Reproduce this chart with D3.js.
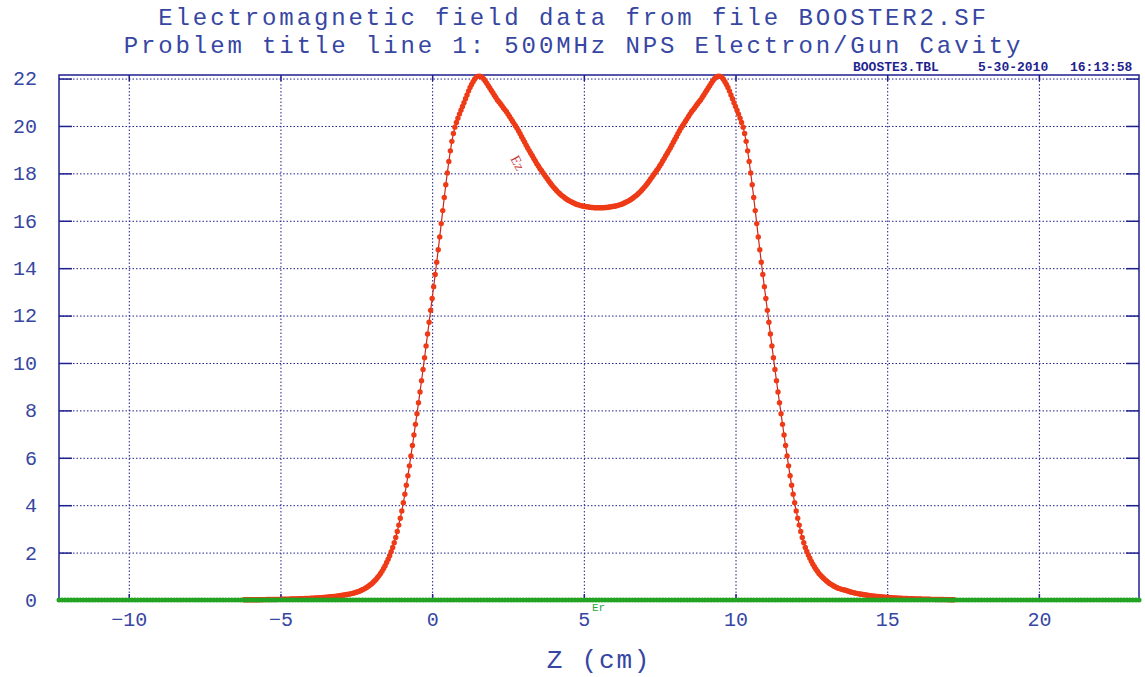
<!DOCTYPE html>
<html><head><meta charset="utf-8">
<script src="https://cdn.jsdelivr.net/npm/d3@7"></script>
<style>html,body{margin:0;padding:0;background:#fff}svg{display:block}</style>
</head><body>
<svg id="chart" width="1145" height="677"></svg>
<script>
// ---------- data ----------
const titleLines = ["Electromagnetic field data from file BOOSTER2.SF",
                    "Problem title line 1: 500MHz NPS Electron/Gun Cavity"];
const stampFile = "BOOSTE3.TBL";
const stampDate = "5-30-2010";
const stampTime = "16:13:58";
const xAxisTitle = "Z (cm)";
const xTickValues = [-10, -5, 0, 5, 10, 15, 20];
const yTickValues = [0, 2, 4, 6, 8, 10, 12, 14, 16, 18, 20, 22];
const seriesNames = ["Ez", "Er"];

// Ez samples, z from -6.20 cm in steps of 0.05 cm (to 17.20 cm)
const ezStart = -6.2, ezStep = 0.05;
const ezValues = [
0.01,0.01,0.01,0.01,0.01,0.01,0.01,0.011,0.011,0.012,
0.013,0.014,0.015,0.016,0.017,0.018,0.019,0.02,0.021,0.022,
0.023,0.024,0.026,0.027,0.028,0.03,0.031,0.033,0.034,0.036,
0.038,0.04,0.042,0.044,0.046,0.048,0.05,0.053,0.055,0.058,
0.061,0.064,0.067,0.07,0.073,0.077,0.08,0.083,0.087,0.09,
0.095,0.1,0.105,0.11,0.115,0.12,0.13,0.135,0.14,0.15,
0.155,0.16,0.17,0.18,0.19,0.2,0.21,0.22,0.23,0.24,
0.26,0.27,0.29,0.31,0.33,0.35,0.37,0.4,0.43,0.46,
0.5,0.54,0.58,0.63,0.68,0.74,0.8,0.87,0.95,1.03,
1.12,1.22,1.33,1.45,1.58,1.72,1.87,2.04,2.22,2.42,
2.64,2.89,3.16,3.45,3.76,4.1,4.46,4.84,5.24,5.66,
6.08,6.52,6.96,7.41,7.86,8.32,8.78,9.25,9.73,10.22,
10.72,11.22,11.72,12.22,12.72,13.22,13.73,14.25,14.78,15.32,
15.88,16.43,16.98,17.52,18.02,18.5,18.95,19.35,19.68,19.95,
20.15,20.33,20.5,20.66,20.82,20.98,21.15,21.31,21.47,21.62,
21.75,21.87,21.97,22.05,22.09,22.1,
22.09,22.05,21.98,21.9,21.8,21.7,21.6,21.5,21.4,21.3,
21.2,21.1,21.02,20.94,20.85,20.76,20.68,20.6,20.5,20.4,
20.3,20.2,20.1,20.0,19.9,19.79,19.67,19.55,19.43,19.31,
19.19,19.07,18.96,18.85,18.74,18.63,18.52,18.41,18.31,18.21,
18.12,18.03,17.94,17.85,17.76,17.67,17.58,17.5,17.42,17.35,
17.28,17.21,17.15,17.09,17.04,16.99,16.94,16.9,16.86,16.82,
16.79,16.76,16.73,16.7,16.68,16.66,16.64,16.62,16.61,16.6,
16.59,16.58,16.57,16.56,16.56,16.55,16.55,16.55,16.55,
16.55,16.55,16.55,16.56,16.56,16.57,16.58,16.59,
16.6,16.61,16.62,16.64,16.66,16.68,16.7,16.73,16.76,16.79,
16.82,16.86,16.9,16.94,16.99,17.04,17.09,17.15,17.21,17.28,
17.35,17.42,17.5,17.58,17.67,17.76,17.85,17.94,18.03,18.12,
18.21,18.31,18.41,18.52,18.63,18.74,18.85,18.96,19.07,19.19,
19.31,19.43,19.55,19.67,19.79,19.9,20.0,20.1,20.2,20.3,
20.4,20.5,20.6,20.68,20.76,20.85,20.94,21.02,21.1,21.2,
21.3,21.4,21.5,21.6,21.7,21.8,21.9,21.98,22.05,22.09,
22.1,
22.09,22.05,21.97,21.87,21.75,21.62,21.47,21.31,21.15,20.98,
20.82,20.66,20.5,20.33,20.15,19.95,19.68,19.35,18.95,18.5,
18.02,17.52,16.98,16.43,15.88,15.32,14.78,14.25,13.73,13.22,
12.72,12.22,11.72,11.22,10.72,10.22,9.73,9.25,8.78,8.32,
7.86,7.41,6.96,6.52,6.08,5.66,5.24,4.84,4.46,4.1,
3.76,3.45,3.16,2.89,2.64,2.42,2.22,2.05,1.9,1.76,
1.63,1.51,1.4,1.3,1.21,1.12,1.05,0.98,0.92,0.86,
0.8,0.75,0.7,0.66,0.62,0.58,0.55,0.52,0.49,0.47,
0.45,0.43,0.42,0.4,0.38,0.36,0.34,0.32,0.31,0.29,
0.28,0.26,0.25,0.24,0.23,0.22,0.21,0.2,0.19,0.18,
0.17,0.165,0.16,0.15,0.145,0.14,0.13,0.125,0.12,0.115,
0.11,0.105,0.1,0.095,0.09,0.087,0.083,0.08,0.076,0.073,
0.07,0.067,0.064,0.061,0.058,0.055,0.052,0.05,0.048,0.046,
0.044,0.042,0.04,0.038,0.036,0.034,0.032,0.03,0.029,0.028,
0.026,0.025,0.024,0.022,0.021,0.02,0.019,0.018,0.017,0.016,
0.015,0.014,0.013,0.012,0.011
];

// Er on axis, z from -12.3 cm in steps of 0.1 cm (to 23.3 cm)
const erStart = -12.3, erStep = 0.1;
const erValues = [
0,0,0,0,0,0,0,0,0,0,0,0,0,0,0,0,0,0,0,0,0,0,0,0,0,0,0,0,0,0,0,0,0,0,0,0,0,0,0,0,0,0,0,0,0,0,0,0,0,0,
0,0,0,0,0,0,0,0,0,0,0,0,0,0,0,0,0,0,0,0,0,0,0,0,0,0,0,0,0,0,0,0,0,0,0,0,0,0,0,0,0,0,0,0,0,0,0,0,0,0,
0,0,0,0,0,0,0,0,0,0,0,0,0,0,0,0,0,0,0,0,0,0,0,0,0,0,0,0,0,0,0,0,0,0,0,0,0,0,0,0,0,0,0,0,0,0,0,0,0,0,
0,0,0,0,0,0,0,0,0,0,0,0,0,0,0,0,0,0,0,0,0,0,0,0,0,0,0,0,0,0,0,0,0,0,0,0,0,0,0,0,0,0,0,0,0,0,0,0,0,0,
0,0,0,0,0,0,0,0,0,0,0,0,0,0,0,0,0,0,0,0,0,0,0,0,0,0,0,0,0,0,0,0,0,0,0,0,0,0,0,0,0,0,0,0,0,0,0,0,0,0,
0,0,0,0,0,0,0,0,0,0,0,0,0,0,0,0,0,0,0,0,0,0,0,0,0,0,0,0,0,0,0,0,0,0,0,0,0,0,0,0,0,0,0,0,0,0,0,0,0,0,
0,0,0,0,0,0,0,0,0,0,0,0,0,0,0,0,0,0,0,0,0,0,0,0,0,0,0,0,0,0,0,0,0,0,0,0,0,0,0,0,0,0,0,0,0,0,0,0,0,0,
0,0,0,0,0,0,0
];

// ---------- drawing ----------
const W = 1145, H = 677;
const svg = d3.select("#chart");
const navy = "#1f1f8f", textBlue = "#3646a2";
const mono = "'Liberation Mono', 'DejaVu Sans Mono', monospace";

const x = d3.scaleLinear().domain([-12.3, 23.3]).range([59, 1139]);
const y = d3.scaleLinear().domain([0, 22.15]).range([600, 75]);

const ez = ezValues.map((v, i) => ({z: ezStart + i * ezStep, v}));
const er = erValues.map((v, i) => ({z: erStart + i * erStep, v}));

// grid
const gGridY = svg.append("g").attr("transform", `translate(${x.range()[0]},0)`)
  .call(d3.axisLeft(y).tickValues(yTickValues.filter(d => d > 0)).tickSize(-(x.range()[1]-x.range()[0])).tickFormat(""));
gGridY.select(".domain").remove();
gGridY.selectAll("line").attr("stroke", navy).attr("stroke-width", 1).attr("stroke-dasharray", "1.5,2");

const gGridX = svg.append("g").attr("transform", `translate(0,${y.range()[0]})`)
  .call(d3.axisBottom(x).tickValues(xTickValues).tickSize(-(y.range()[0]-y.range()[1])).tickFormat(""));
gGridX.select(".domain").remove();
gGridX.selectAll("line").attr("stroke", navy).attr("stroke-width", 1).attr("stroke-dasharray", "1.5,2");

// frame
svg.append("rect").attr("x", x.range()[0]).attr("y", y.range()[1])
  .attr("width", x.range()[1]-x.range()[0]).attr("height", y.range()[0]-y.range()[1])
  .attr("fill", "none").attr("stroke", navy).attr("stroke-width", 1.5);

// axes with inward ticks & labels
const gy = svg.append("g").attr("transform", `translate(${x.range()[0]},0)`)
  .call(d3.axisLeft(y).tickValues(yTickValues).tickSizeInner(-13).tickSizeOuter(0).tickPadding(22).tickFormat(d3.format("d")));
gy.select(".domain").remove();
gy.selectAll("line").attr("stroke", navy).attr("stroke-width", 1.5);
gy.selectAll("text").attr("font-family", mono).attr("font-size", 20).attr("fill", textBlue);

const gyR = svg.append("g").attr("transform", `translate(${x.range()[1]},0)`)
  .call(d3.axisRight(y).tickValues(yTickValues).tickSizeInner(-13).tickSizeOuter(0).tickFormat(""));
gyR.select(".domain").remove();
gyR.selectAll("line").attr("stroke", navy).attr("stroke-width", 1.5);

const gx = svg.append("g").attr("transform", `translate(0,${y.range()[0]})`)
  .call(d3.axisBottom(x).tickValues(xTickValues).tickSizeInner(-6).tickSizeOuter(0).tickPadding(12).tickFormat(d3.format("d")));
gx.select(".domain").remove();
gx.selectAll("line").attr("stroke", navy).attr("stroke-width", 1.5);
gx.selectAll("text").attr("font-family", mono).attr("font-size", 20).attr("fill", textBlue)
  .text(d => String(d).replace("-", "\u2212"));

const gxT = svg.append("g").attr("transform", `translate(0,${y.range()[1]})`)
  .call(d3.axisTop(x).tickValues(xTickValues).tickSizeInner(-6).tickSizeOuter(0).tickFormat(""));
gxT.select(".domain").remove();
gxT.selectAll("line").attr("stroke", navy).attr("stroke-width", 1.5);

// Ez series
const line = d3.line().x(d => x(d.z)).y(d => y(d.v));
svg.append("path").datum(ez).attr("d", line).attr("fill", "none")
  .attr("stroke", "#c8281a").attr("stroke-width", 1.2);
svg.append("g").selectAll("circle").data(ez).join("circle")
  .attr("cx", d => x(d.z)).attr("cy", d => y(d.v)).attr("r", 2.7).attr("fill", "#ee3a16");

// Er series
svg.append("path").datum(er).attr("d", line).attr("fill", "none")
  .attr("stroke", "#1e9a1e").attr("stroke-width", 1.2);
svg.append("g").selectAll("circle").data(er).join("circle")
  .attr("cx", d => x(d.z)).attr("cy", d => y(d.v)).attr("r", 2.5).attr("fill", "#22a322");

// series labels
svg.append("text").attr("transform", `translate(${x(2.82)},${y(18.45)}) rotate(62)`)
  .attr("font-family", "'Liberation Serif', serif").attr("font-size", 14).attr("fill", "#c83a3a")
  .attr("text-anchor", "middle").attr("dy", "0.35em").text(seriesNames[0]);
svg.append("text").attr("x", x(5.27)).attr("y", y(-0.47))
  .attr("font-family", mono).attr("font-size", 11).attr("fill", "#2aa83a").text(seriesNames[1]);

// titles
const titleG = svg.append("g").attr("font-family", mono).attr("font-size", 24)
  .attr("letter-spacing", "2.9px").attr("fill", textBlue).attr("text-anchor", "middle");
titleG.append("text").attr("x", W/2 + 1).attr("y", 25).text(titleLines[0]);
titleG.append("text").attr("x", W/2 + 1).attr("y", 53).text(titleLines[1]);

// stamp
const stampG = svg.append("g").attr("font-family", mono).attr("font-size", 13).attr("font-weight", "bold").attr("fill", navy);
stampG.append("text").attr("x", 853).attr("y", 71).text(stampFile);
stampG.append("text").attr("x", 978).attr("y", 71).text(stampDate);
stampG.append("text").attr("x", 1070).attr("y", 71).text(stampTime);

// x-axis title
svg.append("text").attr("x", (x.range()[0]+x.range()[1])/2).attr("y", 668).attr("text-anchor", "middle")
  .attr("font-family", mono).attr("font-size", 26).attr("letter-spacing", "1.8px").attr("fill", textBlue).text(xAxisTitle);
</script>
</body></html>
